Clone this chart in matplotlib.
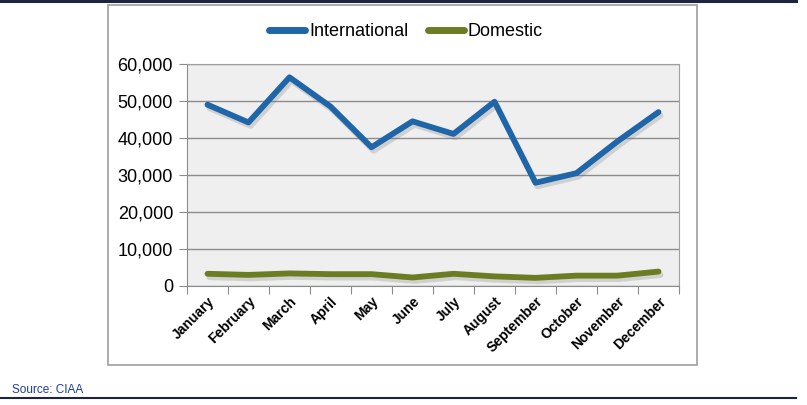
import matplotlib
matplotlib.use("Agg")
import matplotlib.pyplot as plt
import matplotlib.patheffects as pe
from matplotlib.patches import Rectangle
from matplotlib.lines import Line2D
import numpy as np

months = ["January", "February", "March", "April", "May", "June", "July",
          "August", "September", "October", "November", "December"]
international = [49000, 44200, 56400, 48500, 37500, 44500, 41100, 49800,
                 27900, 30500, 39100, 47000]
domestic = [3300, 3000, 3400, 3200, 3200, 2300, 3300, 2600, 2200, 2800, 2800, 3900]
yticks = [0, 10000, 20000, 30000, 40000, 50000, 60000]
series_names = ["International", "Domestic"]
source_text = "Source: CIAA"

plt.rcParams['font.family'] = ['Liberation Sans', 'DejaVu Sans']

W, H = 807, 405
fig = plt.figure(figsize=(W / 100, H / 100), dpi=100)

def fx(px):
    return px / W

def fy(py):
    return 1 - py / H

# outer lines
fig.add_artist(Line2D([0, fx(796)], [fy(1), fy(1)], color="#1c2440", lw=2.2))
fig.add_artist(Line2D([0, fx(796)], [fy(398), fy(398)], color="#1c2440", lw=1.5))
# chart frame
fig.add_artist(Rectangle((fx(108), fy(365)), fx(697) - fx(108), fy(5) - fy(365),
                         fill=False, edgecolor="#a6a6a6", lw=1.3))

ax = fig.add_axes([fx(187), fy(286), fx(679) - fx(187), fy(64) - fy(286)])
ax.set_facecolor("#efefef")
x = np.arange(len(months))
blue = "#1f66a8"
green = "#6b7d22"
shadow = [pe.SimpleLineShadow(offset=(1.5, -2.5), shadow_color="#777777", alpha=0.25),
          pe.Normal()]
l1, = ax.plot(x, international, color=blue, lw=4.2, solid_capstyle="round",
              solid_joinstyle="round", path_effects=shadow, zorder=3)
l2, = ax.plot(x, domestic, color=green, lw=4.2, solid_capstyle="round",
              solid_joinstyle="round", path_effects=shadow, zorder=3)

ax.set_xlim(-0.5, len(months) - 0.5)
ax.set_ylim(0, 60000)
ax.set_yticks(yticks)
ax.set_yticklabels([f"{v:,}" for v in yticks], fontsize=13)
ax.yaxis.grid(True, color="#8c8c8c", lw=1.0)
ax.set_axisbelow(True)

ax.set_xticks(np.arange(len(months) + 1) - 0.5, minor=False)
ax.set_xticklabels([])
ax.set_xticks(x, minor=True)
ax.set_xticklabels(months, minor=True, rotation=45, ha="right", va="top",
                   rotation_mode="anchor", fontsize=10, fontweight="bold")
ax.tick_params(axis="x", which="minor", length=0, pad=6)
ax.tick_params(axis="x", which="major", length=6, color="#8c8c8c", direction="out")
ax.tick_params(axis="y", length=6, color="#8c8c8c", direction="out", pad=4)

for s in ["top", "right"]:
    ax.spines[s].set_color("#a0a0a0")
ax.spines["left"].set_color("#8c8c8c")
ax.spines["bottom"].set_color("#8c8c8c")

handles = [Line2D([], [], color=blue, lw=5, solid_capstyle="round"),
           Line2D([], [], color=green, lw=5, solid_capstyle="round")]
fig.legend(handles, series_names, loc="center", bbox_to_anchor=(fx(406), fy(32)),
           ncol=2, frameon=False, fontsize=13, handlelength=2.0, handletextpad=0.2,
           columnspacing=1.1)

fig.text(fx(12), fy(390), source_text, fontsize=8.5, color="#1f3c99",
         ha="left", va="center")

fig.savefig("out.png", dpi=100)
